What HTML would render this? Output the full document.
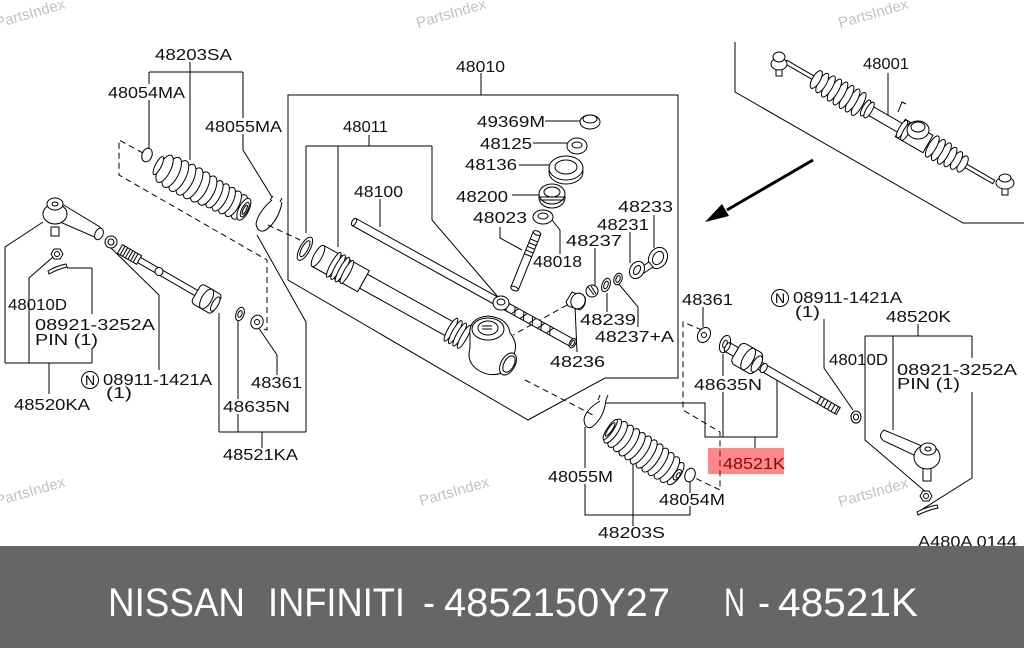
<!DOCTYPE html>
<html><head><meta charset="utf-8">
<style>
html,body{margin:0;padding:0;background:#fff;width:1024px;height:648px;overflow:hidden}
svg{display:block}
.t{font-family:"Liberation Sans",sans-serif;font-size:16px;fill:#111}
.w{font-family:"Liberation Sans",sans-serif;font-size:15px;fill:#c2c2c2}
.b{font-family:"Liberation Sans",sans-serif;font-size:40px;fill:#fff}
</style></head><body>
<svg width="1024" height="648" viewBox="0 0 1024 648" xmlns="http://www.w3.org/2000/svg">
<rect width="1024" height="648" fill="#fff"/>

<!-- watermarks -->
<g class="w">
<text x="-3" y="28" transform="rotate(-16 -3 28)">PartsIndex</text>
<text x="418" y="28" transform="rotate(-16 418 28)">PartsIndex</text>
<text x="840" y="28" transform="rotate(-16 840 28)">PartsIndex</text>
<text x="-3" y="506" transform="rotate(-16 -3 506)">PartsIndex</text>
<text x="421" y="506" transform="rotate(-16 421 506)">PartsIndex</text>
<text x="840" y="507" transform="rotate(-16 840 507)">PartsIndex</text>
</g>

<!-- leader / bracket lines -->
<g fill="none" stroke="#000" stroke-width="1">
<!-- left -->
<path d="M190,62V160 M149,72H243 M149,72V84 M149,100V150 M243,72V118 M243,134V150L272,197"/>
<path d="M5,363H92 M5,363V247L43,222 M29,363V278L53,257 M92,268H67 M92,268V314 M92,348V363 M49,363V394"/>
<path d="M159,370V295L110,247"/>
<path d="M219,432H306 M219,432V313 M238,317V399 M238,414V432 M306,432V322L257,235 M262,432V448"/>
<path d="M277,375V355L258,327"/>
<!-- center box -->
<path d="M481,73V95 M288,95H678V378H605L528,420L288,280Z"/>
<path d="M369,135V146 M306,146H432 M306,146V233 M338,146V247 M432,146V220L498,297"/>
<path d="M380,199V227"/>
<path d="M545,121H580 M533,143H567 M519,165H550 M512,195H540"/>
<path d="M500,227V238L522,250 M552,220L560,230V254"/>
<path d="M595,248V288 M630,232V263 M654,215V248 M607,293V312 M618,283L638,307V327 M575,306L577,352"/>
<!-- right -->
<path d="M703,307V327 M723,354V376 M723,392V437"/>
<path d="M605,403H705V437H777V380 M755,437V448"/>
<path d="M824,319V368L853,410"/>
<path d="M918,324V336 M865,336H972 M865,336V440L927,493 M893,336V430 M972,336V358 M972,392V478L918,512"/>
<path d="M585,427V468 M585,484V515H690V506 M690,482V493 M633,462V526"/>
<!-- inset -->
<path d="M735,42V92L963,223H1024 M888,73V115"/>
</g>

<!-- dashed -->
<g fill="none" stroke="#000" stroke-width="1" stroke-dasharray="6,4">
<path d="M143,153L119,140V175L267,260V330L258,327"/>
<path d="M268,225L300,240"/>
<path d="M567,305L513,335"/>
<path d="M525,380L595,416"/>
<path d="M702,330L683,322V410L720,432V490L695,478"/>
</g>

<!-- arrow -->
<path d="M813,160L727,210" stroke="#000" stroke-width="3" fill="none"/>
<polygon points="705,222 722,204 729,216" fill="#000"/>

<g fill="#fff" stroke="#000" stroke-width="1">
<!-- left tie rod end -->
<path d="M62,204L100,227Q104,233 99,239L60,222Z"/>
<ellipse cx="55" cy="214" rx="12" ry="10"/>
<ellipse cx="55" cy="204" rx="8" ry="6"/>
<ellipse cx="55" cy="204" rx="3" ry="2"/>
<rect x="51" y="227" width="8" height="9"/>
<ellipse cx="99" cy="234" rx="4" ry="6" transform="rotate(25 99 234)"/>
<ellipse cx="111" cy="242" rx="6" ry="6"/><ellipse cx="111" cy="242" rx="3" ry="3"/>
<polygon points="51,254 54,249 60,249 63,254 60,259 54,259"/>
<circle cx="57" cy="254" r="2.5"/>
<path d="M48,271Q56,266 66,264L67,267Q58,269 49,274Z"/>

<!-- left inner tie rod -->
<g transform="translate(120,249) rotate(30)">
<rect x="0" y="-5" width="22" height="10"/>
<path d="M3,-5V5 M6,-5V5 M9,-5V5 M12,-5V5 M15,-5V5 M18,-5V5" fill="none"/>
<rect x="22" y="-3" width="70" height="6"/>
<ellipse cx="45" cy="0" rx="4" ry="4"/>
<rect x="88" y="-11" width="24" height="22" rx="4"/>
<ellipse cx="100" cy="0" rx="5" ry="11"/>
<ellipse cx="110" cy="0" rx="3" ry="8"/>
</g>
<ellipse cx="240" cy="314" rx="4" ry="7" transform="rotate(20 240 314)"/>
<ellipse cx="240" cy="314" rx="2" ry="3.5" transform="rotate(20 240 314)"/>
<ellipse cx="257" cy="322" rx="6" ry="7" transform="rotate(25 257 322)"/>
<circle cx="257" cy="322" r="2.5"/>

<!-- left boot -->
<ellipse cx="147" cy="155" rx="5" ry="7" transform="rotate(20 147 155)"/>
<g transform="translate(161,167) rotate(27)">
<ellipse cx="88" cy="0" rx="6" ry="13.5"/>
<ellipse cx="81" cy="0" rx="6" ry="14"/>
<ellipse cx="74" cy="0" rx="6" ry="14.5"/>
<ellipse cx="67" cy="0" rx="6" ry="15"/>
<ellipse cx="60" cy="0" rx="6" ry="15"/>
<ellipse cx="52" cy="0" rx="7" ry="16"/>
<ellipse cx="44" cy="0" rx="7" ry="16.5"/>
<ellipse cx="36" cy="0" rx="7" ry="17"/>
<ellipse cx="28" cy="0" rx="7" ry="17"/>
<ellipse cx="20" cy="0" rx="7" ry="17"/>
<ellipse cx="12" cy="0" rx="7" ry="16.5"/>
<ellipse cx="4" cy="0" rx="6" ry="15"/>
<ellipse cx="-3" cy="0" rx="3" ry="10"/>
<ellipse cx="93" cy="0" rx="5" ry="12"/>
<ellipse cx="94" cy="0" rx="3" ry="8"/>
<ellipse cx="94" cy="0" rx="1.5" ry="5"/>
</g>
<path d="M272,200Q258,212 256,224Q258,234 266,230Q279,220 282,202" fill="none"/>
<path d="M270,200l3,-4 M280,202l2,-4" fill="none"/>

<!-- rack housing 48011 -->
<g transform="translate(318,256) rotate(29)">
<ellipse cx="-15" cy="0" rx="5" ry="13"/>
<ellipse cx="-15" cy="0" rx="3" ry="9"/>
<rect x="52" y="-8" width="100" height="16"/>
<path d="M0,-12H52V12H0Z"/>
<ellipse cx="0" cy="0" rx="4" ry="12"/>
<ellipse cx="18" cy="0" rx="3" ry="14"/>
<ellipse cx="23" cy="0" rx="3" ry="14"/>
<ellipse cx="28" cy="0" rx="3" ry="14"/>
<ellipse cx="33" cy="0" rx="3" ry="13"/>
<ellipse cx="152" cy="0" rx="3" ry="13"/>
<ellipse cx="157" cy="0" rx="3" ry="13"/>
<ellipse cx="162" cy="0" rx="3" ry="13"/>
<ellipse cx="167" cy="0" rx="3" ry="13"/>
</g>
<path d="M470,335Q468,318 488,316Q508,318 510,333Q520,345 512,358L505,372Q490,378 478,370Q466,362 470,348Z"/>
<ellipse cx="488" cy="329" rx="16" ry="11"/>
<ellipse cx="488" cy="328" rx="10" ry="7"/>
<path d="M482,326h10 M482,329h10" fill="none"/>
<ellipse cx="508" cy="364" rx="7" ry="12" transform="rotate(29 508 364)"/>
<ellipse cx="509" cy="364" rx="5" ry="9" transform="rotate(29 509 364)"/>

<!-- rack bar 48100 -->
<g transform="translate(354,222) rotate(29)">
<rect x="0" y="-4" width="250" height="8"/>
<ellipse cx="0" cy="0" rx="2" ry="4"/>
<path d="M172,-4l4,8 M176,-4l-4,8 M182,-4l4,8 M186,-4l-4,8 M192,-4l4,8 M196,-4l-4,8 M202,-4l4,8 M206,-4l-4,8 M212,-4l4,8 M216,-4l-4,8 M222,-4l4,8 M226,-4l-4,8" fill="none"/>
<ellipse cx="250" cy="0" rx="3" ry="5"/>
<ellipse cx="250" cy="0" rx="1.5" ry="3"/>
</g>
<ellipse cx="501" cy="303" rx="8" ry="7"/>
<ellipse cx="501" cy="302" rx="4" ry="3"/>

<!-- pinion stack -->
<ellipse cx="590" cy="122" rx="10" ry="7"/>
<ellipse cx="590" cy="119" rx="7" ry="4"/>
<ellipse cx="577" cy="146" rx="10" ry="8"/>
<ellipse cx="577" cy="145" rx="5" ry="3"/>
<ellipse cx="566" cy="172" rx="17" ry="12"/>
<ellipse cx="566" cy="168" rx="17" ry="12"/>
<ellipse cx="566" cy="167" rx="11" ry="7"/>
<ellipse cx="552" cy="198" rx="13" ry="10"/>
<ellipse cx="552" cy="194" rx="13" ry="10"/>
<ellipse cx="552" cy="192" rx="8" ry="5"/>
<path d="M540,197h24 M540,200h24" fill="none"/>
<ellipse cx="543" cy="217" rx="10" ry="7"/>
<ellipse cx="543" cy="216" rx="5" ry="3"/>
<g transform="translate(537,233) rotate(112)">
<rect x="0" y="-4" width="60" height="8"/>
<ellipse cx="0" cy="0" rx="2" ry="4"/>
<path d="M8,-4V4 M12,-4V4 M16,-4V4 M20,-4V4 M24,-4V4" fill="none"/>
<ellipse cx="60" cy="0" rx="2" ry="4"/>
</g>

<!-- right small parts -->
<ellipse cx="658" cy="258" rx="9" ry="11" transform="rotate(30 658 258)"/>
<ellipse cx="658" cy="258" rx="5" ry="7" transform="rotate(30 658 258)"/>
<path d="M640,268l9,-6l4,5l-9,6Z"/>
<ellipse cx="637" cy="270" rx="7" ry="9" transform="rotate(30 637 270)"/>
<ellipse cx="637" cy="270" rx="3" ry="5" transform="rotate(30 637 270)"/>
<ellipse cx="618" cy="279" rx="4" ry="6" transform="rotate(20 618 279)"/>
<ellipse cx="618" cy="279" rx="2" ry="3.5" transform="rotate(20 618 279)"/>
<ellipse cx="606" cy="285" rx="4" ry="7" transform="rotate(20 606 285)"/>
<ellipse cx="606" cy="285" rx="2" ry="4" transform="rotate(20 606 285)"/>
<ellipse cx="592" cy="291" rx="6" ry="6"/>
<path d="M588,287l6,8 M591,286l5,8" fill="none"/>
<path d="M566,302L572,292L585,297Q587,305 580,310L568,306Z"/>
<ellipse cx="578" cy="301" rx="7" ry="8" transform="rotate(25 578 301)"/>

<!-- right boot -->
<path d="M600,401Q585,410 584,420Q585,430 592,427Q604,418 606,400" fill="none"/>
<path d="M598,400l2,-5 M606,400l2,-5" fill="none"/>
<g transform="translate(611,430) rotate(34)">
<ellipse cx="78" cy="0" rx="5" ry="13"/>
<ellipse cx="71" cy="0" rx="6" ry="15"/>
<ellipse cx="64" cy="0" rx="6" ry="15.5"/>
<ellipse cx="57" cy="0" rx="6" ry="16"/>
<ellipse cx="50" cy="0" rx="6" ry="16.5"/>
<ellipse cx="43" cy="0" rx="6" ry="16.5"/>
<ellipse cx="36" cy="0" rx="6" ry="16.5"/>
<ellipse cx="29" cy="0" rx="6" ry="16"/>
<ellipse cx="22" cy="0" rx="6" ry="16"/>
<ellipse cx="15" cy="0" rx="6" ry="15.5"/>
<ellipse cx="8" cy="0" rx="6" ry="15"/>
<ellipse cx="2" cy="0" rx="5" ry="14"/>
<ellipse cx="-1" cy="0" rx="3" ry="12"/>
<ellipse cx="-1" cy="0" rx="2" ry="8"/>
<ellipse cx="80" cy="0" rx="3" ry="6"/>
<ellipse cx="81" cy="0" rx="1.5" ry="3"/>
</g>
<ellipse cx="690" cy="475" rx="5" ry="7" transform="rotate(20 690 475)"/>

<!-- right washers and inner tie rod -->
<ellipse cx="704" cy="335" rx="6" ry="8" transform="rotate(30 704 335)"/>
<circle cx="704" cy="335" r="2.5"/>
<ellipse cx="725" cy="344" rx="5" ry="9" transform="rotate(20 725 344)"/>
<ellipse cx="725" cy="344" rx="2" ry="4" transform="rotate(20 725 344)"/>
<g transform="translate(736,352) rotate(30)">
<rect x="-10" y="-5" width="10" height="10"/>
<ellipse cx="-10" cy="0" rx="2" ry="5"/>
<rect x="26" y="-4" width="70" height="8"/>
<ellipse cx="32" cy="0" rx="3" ry="5"/>
<rect x="0" y="-12" width="26" height="24" rx="5"/>
<ellipse cx="14" cy="0" rx="5" ry="12"/>
<ellipse cx="24" cy="0" rx="4" ry="9"/>
<rect x="96" y="-4" width="22" height="8"/>
<path d="M100,-4V4 M104,-4V4 M108,-4V4 M112,-4V4 M116,-4V4" fill="none"/>
</g>
<ellipse cx="856" cy="417" rx="5" ry="6"/>
<ellipse cx="856" cy="417" rx="2.5" ry="3"/>

<!-- right tie rod end -->
<path d="M884,430Q877,436 884,441L918,457L922,446Z"/>
<rect x="923" y="467" width="8" height="14"/>
<ellipse cx="927" cy="457" rx="13" ry="12"/>
<ellipse cx="928" cy="449" rx="8" ry="6"/>
<ellipse cx="928" cy="449" rx="3" ry="2"/>
<polygon points="920,496 923,491 929,491 932,496 929,501 923,501"/>
<circle cx="926" cy="496" r="2.5"/>
<path d="M917,512Q926,507 937,505L938,508Q928,510 918,515Z"/>

<!-- inset rack 48001 -->
<g transform="translate(779,58) rotate(30)">
<rect x="8" y="-2" width="32" height="4"/>
<rect x="105" y="-5" width="40" height="10"/>
<rect x="140" y="-10" width="32" height="20"/>
<rect x="212" y="-2" width="36" height="4"/>
<ellipse cx="92" cy="0" rx="4" ry="13"/>
<ellipse cx="85" cy="0" rx="4" ry="13"/>
<ellipse cx="78" cy="0" rx="4" ry="13"/>
<ellipse cx="71" cy="0" rx="4" ry="13"/>
<ellipse cx="64" cy="0" rx="4" ry="12.5"/>
<ellipse cx="57" cy="0" rx="4" ry="12"/>
<ellipse cx="50" cy="0" rx="4" ry="11"/>
<ellipse cx="43" cy="0" rx="4" ry="10"/>
<ellipse cx="100" cy="0" rx="3" ry="9"/>
<ellipse cx="104" cy="0" rx="3" ry="9"/>
<ellipse cx="142" cy="0" rx="3" ry="10"/>
<ellipse cx="147" cy="0" rx="3" ry="10"/>
<ellipse cx="212" cy="0" rx="4" ry="9"/>
<ellipse cx="205" cy="0" rx="4" ry="10"/>
<ellipse cx="198" cy="0" rx="4" ry="11"/>
<ellipse cx="191" cy="0" rx="4" ry="12"/>
<ellipse cx="184" cy="0" rx="4" ry="12"/>
<ellipse cx="177" cy="0" rx="4" ry="12"/>
</g>
<ellipse cx="918" cy="130" rx="11" ry="9"/>
<ellipse cx="918" cy="127" rx="7" ry="5"/>
<rect x="776" y="68" width="6" height="8"/>
<ellipse cx="779" cy="64" rx="8" ry="6"/>
<ellipse cx="779" cy="57" rx="6" ry="5"/>
<rect x="1002" y="187" width="6" height="8"/>
<ellipse cx="1005" cy="183" rx="9" ry="6"/>
<ellipse cx="1005" cy="178" rx="6" ry="4"/>
<path d="M898,112l4,-10l4,2" fill="none"/>
</g>

<!-- labels -->
<g class="t">
<text x="155" y="60" textLength="77" lengthAdjust="spacingAndGlyphs">48203SA</text>
<text x="108" y="98" textLength="77" lengthAdjust="spacingAndGlyphs">48054MA</text>
<text x="205" y="132" textLength="77" lengthAdjust="spacingAndGlyphs">48055MA</text>
<text x="456" y="72" textLength="49" lengthAdjust="spacingAndGlyphs">48010</text>
<text x="343" y="132" textLength="45" lengthAdjust="spacingAndGlyphs">48011</text>
<text x="477" y="127" textLength="68" lengthAdjust="spacingAndGlyphs">49369M</text>
<text x="480" y="149" textLength="52" lengthAdjust="spacingAndGlyphs">48125</text>
<text x="465" y="170" textLength="52" lengthAdjust="spacingAndGlyphs">48136</text>
<text x="456" y="202" textLength="52" lengthAdjust="spacingAndGlyphs">48200</text>
<text x="473" y="223" textLength="54" lengthAdjust="spacingAndGlyphs">48023</text>
<text x="354" y="197" textLength="49" lengthAdjust="spacingAndGlyphs">48100</text>
<text x="618" y="212" textLength="55" lengthAdjust="spacingAndGlyphs">48233</text>
<text x="597" y="230" textLength="52" lengthAdjust="spacingAndGlyphs">48231</text>
<text x="566" y="246" textLength="56" lengthAdjust="spacingAndGlyphs">48237</text>
<text x="533" y="267" textLength="49" lengthAdjust="spacingAndGlyphs">48018</text>
<text x="580" y="325" textLength="56" lengthAdjust="spacingAndGlyphs">48239</text>
<text x="595" y="342" textLength="79" lengthAdjust="spacingAndGlyphs">48237+A</text>
<text x="550" y="367" textLength="55" lengthAdjust="spacingAndGlyphs">48236</text>
<text x="682" y="305" textLength="51" lengthAdjust="spacingAndGlyphs">48361</text>
<text x="793" y="303" textLength="109" lengthAdjust="spacingAndGlyphs">08911-1421A</text>
<text x="795" y="317" textLength="25" lengthAdjust="spacingAndGlyphs">(1)</text>
<text x="886" y="322" textLength="65" lengthAdjust="spacingAndGlyphs">48520K</text>
<text x="829" y="365" textLength="59" lengthAdjust="spacingAndGlyphs">48010D</text>
<text x="897" y="375" textLength="120" lengthAdjust="spacingAndGlyphs">08921-3252A</text>
<text x="897" y="389" textLength="63" lengthAdjust="spacingAndGlyphs">PIN (1)</text>
<text x="694" y="390" textLength="68" lengthAdjust="spacingAndGlyphs">48635N</text>
<text x="723" y="469" textLength="62" lengthAdjust="spacingAndGlyphs">48521K</text>
<text x="548" y="482" textLength="65" lengthAdjust="spacingAndGlyphs">48055M</text>
<text x="659" y="505" textLength="66" lengthAdjust="spacingAndGlyphs">48054M</text>
<text x="598" y="538" textLength="67" lengthAdjust="spacingAndGlyphs">48203S</text>
<text x="918" y="547" textLength="99" lengthAdjust="spacingAndGlyphs">A480A 0144</text>
<text x="863" y="69" textLength="46" lengthAdjust="spacingAndGlyphs">48001</text>
<text x="8" y="310" textLength="59" lengthAdjust="spacingAndGlyphs">48010D</text>
<text x="35" y="330" textLength="120" lengthAdjust="spacingAndGlyphs">08921-3252A</text>
<text x="35" y="345" textLength="63" lengthAdjust="spacingAndGlyphs">PIN (1)</text>
<text x="103" y="385" textLength="109" lengthAdjust="spacingAndGlyphs">08911-1421A</text>
<text x="106" y="398" textLength="26" lengthAdjust="spacingAndGlyphs">(1)</text>
<text x="14" y="410" textLength="76" lengthAdjust="spacingAndGlyphs">48520KA</text>
<text x="251" y="388" textLength="51" lengthAdjust="spacingAndGlyphs">48361</text>
<text x="223" y="412" textLength="67" lengthAdjust="spacingAndGlyphs">48635N</text>
<text x="223" y="460" textLength="75" lengthAdjust="spacingAndGlyphs">48521KA</text>
</g>
<!-- N circles -->
<g fill="none" stroke="#000" stroke-width="1">
<circle cx="90" cy="380" r="8.5"/>
<circle cx="780" cy="298" r="8.5"/>
</g>
<text x="90" y="385" text-anchor="middle" style="font-family:'Liberation Sans',sans-serif;font-size:14px">N</text>
<text x="780" y="303" text-anchor="middle" style="font-family:'Liberation Sans',sans-serif;font-size:14px">N</text>

<!-- highlight -->
<rect x="708" y="448" width="76" height="26" fill="#ff0000" fill-opacity="0.47"/>

<!-- banner -->
<rect x="0" y="546" width="1024" height="102" fill="#666666"/>
<g class="b">
<text x="108" y="616" textLength="137" lengthAdjust="spacingAndGlyphs">NISSAN</text>
<text x="268" y="616" textLength="137" lengthAdjust="spacingAndGlyphs">INFINITI</text>
<text x="423" y="616" textLength="12" lengthAdjust="spacingAndGlyphs">-</text>
<text x="444" y="616" textLength="226" lengthAdjust="spacingAndGlyphs">4852150Y27</text>
<text x="724" y="616" textLength="21" lengthAdjust="spacingAndGlyphs">N</text>
<text x="758" y="616" textLength="12" lengthAdjust="spacingAndGlyphs">-</text>
<text x="778" y="616" textLength="140" lengthAdjust="spacingAndGlyphs">48521K</text>
</g>
</svg>
</body></html>
